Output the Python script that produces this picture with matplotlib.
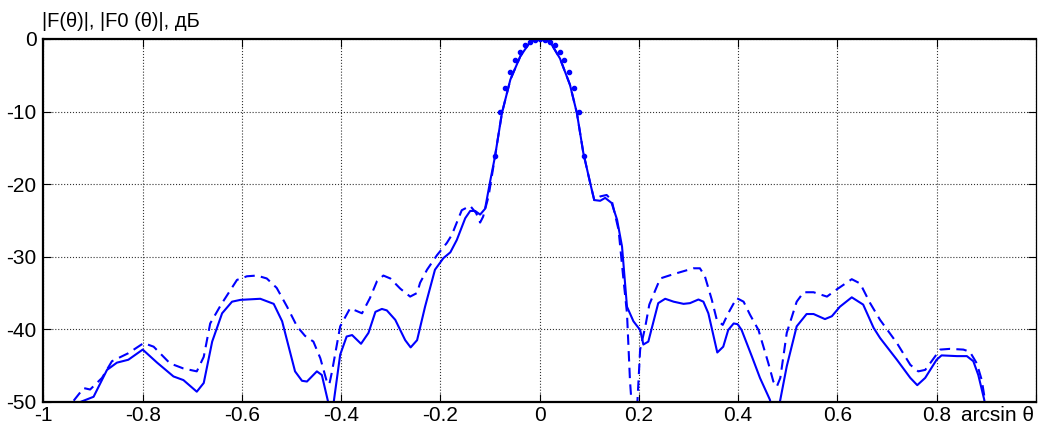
import matplotlib
matplotlib.use('Agg')
import matplotlib.pyplot as plt

plt.rcParams['font.family'] = ['Liberation Sans', 'DejaVu Sans']
plt.rcParams['axes.unicode_minus'] = False

# |F(theta)|, solid
f_x = [-0.935, -0.925, -0.899, -0.872, -0.852, -0.829, -0.800, -0.771, -0.738, -0.718,
       -0.691, -0.677, -0.660, -0.640, -0.620, -0.603, -0.563, -0.536, -0.519, -0.493,
       -0.479, -0.469, -0.449, -0.439, -0.426, -0.421, -0.415, -0.402, -0.389, -0.378,
       -0.360, -0.345, -0.331, -0.318, -0.308, -0.291, -0.271, -0.260, -0.247, -0.231,
       -0.211, -0.194, -0.180, -0.167, -0.150, -0.140, -0.130, -0.120, -0.110, -0.100,
       -0.090, -0.076, -0.059, -0.039, -0.019, 0.000, 0.021, 0.041, 0.061, 0.075,
       0.088, 0.102, 0.110, 0.122, 0.132, 0.145, 0.156, 0.166, 0.176, 0.189,
       0.2025, 0.209, 0.219, 0.239, 0.253, 0.270, 0.290, 0.303, 0.320, 0.330,
       0.340, 0.358, 0.370, 0.380, 0.391, 0.399, 0.407, 0.428, 0.444, 0.464,
       0.475, 0.485, 0.498, 0.518, 0.538, 0.552, 0.575, 0.589, 0.605, 0.629,
       0.652, 0.673, 0.686, 0.720, 0.747, 0.761, 0.777, 0.800, 0.810, 0.841,
       0.861, 0.874, 0.884, 0.896, 0.899]
f_db = [-51.0, -50.0, -49.3, -45.6, -44.6, -44.2, -42.8, -44.6, -46.5, -47.0,
        -48.6, -47.4, -41.7, -37.8, -36.2, -35.95, -35.8, -36.5, -38.9, -45.8,
        -47.1, -47.2, -45.8, -46.3, -50.1, -53.0, -50.0, -43.5, -41.0, -40.8,
        -42.0, -40.5, -37.6, -37.2, -37.4, -38.7, -41.5, -42.5, -41.5, -36.9,
        -31.8, -30.2, -29.4, -27.7, -24.7, -23.7, -23.7, -24.2, -23.4, -19.7,
        -16.2, -10.2, -5.6, -2.4, -0.4, 0.0, -0.4, -2.7, -6.3, -10.2,
        -15.7, -19.9, -22.2, -22.3, -21.9, -22.6, -24.9, -28.6, -36.9, -38.9,
        -40.1, -42.1, -41.7, -36.4, -35.8, -36.2, -36.5, -36.4, -35.9, -36.2,
        -37.8, -43.2, -42.4, -40.1, -39.2, -39.3, -40.1, -43.8, -46.7, -49.7,
        -53.0, -49.7, -45.1, -39.6, -37.9, -37.9, -38.6, -38.2, -36.9, -35.6,
        -36.6, -39.8, -41.2, -44.2, -46.7, -47.7, -46.7, -44.2, -43.6, -43.7,
        -43.7, -44.4, -46.3, -49.7, -51.0]

# |F0(theta)|, dashed
f0_x = [-0.950, -0.941, -0.919, -0.906, -0.882, -0.862, -0.829, -0.798, -0.778, -0.745,
        -0.718, -0.691, -0.677, -0.664, -0.642, -0.610, -0.590, -0.570, -0.550, -0.530,
        -0.509, -0.489, -0.473, -0.456, -0.442, -0.429, -0.424, -0.419, -0.402, -0.382,
        -0.358, -0.342, -0.328, -0.315, -0.301, -0.281, -0.261, -0.247, -0.241, -0.227,
        -0.207, -0.187, -0.177, -0.157, -0.140, -0.128, -0.120, -0.114, -0.103, -0.090,
        -0.076, -0.059, -0.039, -0.019, 0.000, 0.021, 0.041, 0.061, 0.075, 0.088,
        0.102, 0.110, 0.122, 0.135, 0.145, 0.159, 0.169, 0.176, 0.182, 0.190,
        0.197, 0.2025, 0.213, 0.221, 0.243, 0.270, 0.290, 0.310, 0.323, 0.333,
        0.347, 0.357, 0.369, 0.380, 0.397, 0.411, 0.424, 0.441, 0.461, 0.471,
        0.478, 0.485, 0.498, 0.518, 0.532, 0.552, 0.579, 0.599, 0.629, 0.646,
        0.666, 0.686, 0.720, 0.747, 0.763, 0.777, 0.790, 0.807, 0.827, 0.854,
        0.867, 0.881, 0.891, 0.898, 0.901]
f0_db = [-52.0, -50.0, -48.1, -48.3, -46.7, -44.4, -43.3, -41.9, -42.4, -44.7,
         -45.4, -45.8, -43.8, -39.2, -36.6, -33.2, -32.7, -32.6, -33.0, -34.3,
         -36.9, -39.6, -40.9, -41.7, -44.0, -47.2, -47.6, -46.0, -39.6, -37.1,
         -37.8, -35.7, -33.4, -32.6, -33.0, -34.4, -35.5, -35.0, -33.6, -31.8,
         -29.8, -28.1, -27.0, -23.6, -23.0, -24.0, -25.3, -24.5, -21.7, -16.2,
         -10.2, -5.6, -2.4, -0.4, 0.0, -0.4, -2.7, -6.3, -10.2, -15.7,
         -19.9, -22.2, -21.7, -21.5, -22.2, -26.3, -33.2, -37.8, -47.0, -55.0,
         -50.0, -42.8, -39.6, -36.6, -33.0, -32.4, -32.0, -31.6, -31.6, -32.7,
         -35.95, -38.7, -39.4, -37.8, -35.7, -36.2, -38.0, -40.1, -44.7, -47.2,
         -47.9, -46.7, -40.5, -36.2, -34.9, -34.9, -35.5, -34.5, -33.1, -33.7,
         -36.4, -38.7, -41.9, -44.9, -45.8, -45.6, -44.4, -42.8, -42.7, -42.8,
         -43.1, -44.7, -47.0, -50.0, -52.0]

# main lobe points (dots)
dot_x = [-0.09, -0.08, -0.07, -0.06, -0.05, -0.04, -0.03, -0.02, -0.01, 0.0,
         0.01, 0.02, 0.03, 0.04, 0.05, 0.06, 0.07, 0.08, 0.09]
dot_db = [-16.1, -10.1, -6.8, -4.6, -2.9, -1.8, -0.9, -0.4, -0.1, 0.0,
          -0.1, -0.4, -0.9, -1.8, -2.9, -4.6, -6.8, -10.1, -16.1]

x_ticks = [-1, -0.8, -0.6, -0.4, -0.2, 0, 0.2, 0.4, 0.6, 0.8, 1]
x_labels = ['-1', '-0.8', '-0.6', '-0.4', '-0.2', '0', '0.2', '0.4', '0.6', '0.8', '']
y_ticks = [-50, -40, -30, -20, -10, 0]

fig = plt.figure(figsize=(10.4, 4.23), dpi=100)
ax = fig.add_axes([0.0418, 0.050, 0.9542, 0.858])

ax.plot(f0_x, f0_db, color='#0000ff', linewidth=1.5, dashes=(5, 3))
ax.plot(f_x, f_db, color='#0000ff', linewidth=1.5)
ax.plot(dot_x, dot_db, linestyle='none', marker='o', markersize=3, color='#0000ff')

ax.set_xlim(-1, 1)
ax.set_ylim(-50, 0)
ax.set_xticks(x_ticks)
ax.set_xticklabels(x_labels)
ax.set_yticks(y_ticks)
ax.tick_params(direction='in', length=6, width=0.8, top=True, right=True,
               labelsize=15)
ax.tick_params(axis='y', pad=5)
ax.tick_params(axis='x', pad=3)
ax.grid(True, color='0.2', linestyle=':', linewidth=0.8)

for side in ['left', 'bottom', 'top']:
    ax.spines[side].set_linewidth(1.6)
ax.spines['right'].set_linewidth(0.9)

ax.annotate('arcsin θ', xy=(1, 0), xycoords='axes fraction', xytext=(-1, -3),
            textcoords='offset points', ha='right', va='top', fontsize=15)
fig.text(0.0404, 0.936, '|F(θ)|, |F0 (θ)|, дБ', ha='left', va='baseline', fontsize=14.5)

fig.savefig('out.png', dpi=100)
